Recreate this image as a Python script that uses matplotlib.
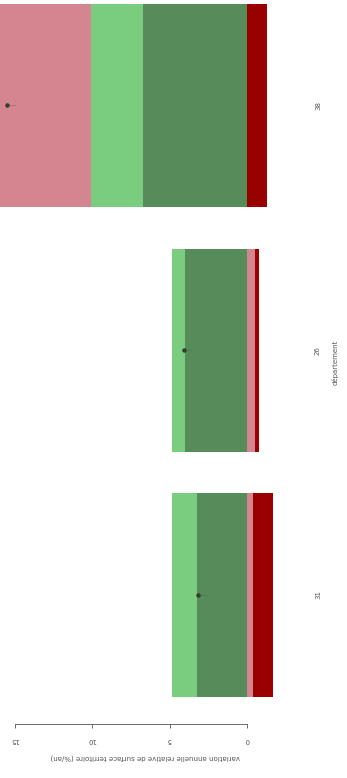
import numpy as np
import matplotlib
matplotlib.use("Agg")
import matplotlib.pyplot as plt

# departements, bottom to top
departements = ['31', '26', '38']

# stacked components (%/an)
vert_fonce = [3.26, 4.0, 6.7]
vert_clair = [1.6, 0.86, 3.4]
rose = [-0.4, -0.5, 6.7]
rouge = [-1.3, -0.3, -1.3]

series = [vert_fonce, vert_clair, rose, rouge]
colors = ['#568c5a', '#7acc7e', '#d4858f', '#990000']

fig = plt.figure(figsize=(3.47, 7.78), dpi=100)
# axes in pixels: left 0, right 290, bottom at y=724 from top
ax = fig.add_axes([0, 54/778, 290/347, 724/778])

pos = np.arange(len(departements))
pos_base = np.zeros(len(departements))
neg_base = np.zeros(len(departements))
for vals, c in zip(series, colors):
    vals = np.array(vals)
    left = np.where(vals >= 0, pos_base, neg_base)
    ax.barh(pos, vals, left=left, height=0.83, color=c, linewidth=0)
    pos_base += np.where(vals >= 0, vals, 0)
    neg_base += np.where(vals < 0, vals, 0)

#net value as a point
net = np.sum(np.array(series), axis=0)
ax.plot(net, pos, 'o', color='#2f3b2f', markersize=2.2, zorder=5)
for x, y in zip(net, pos):
    ax.plot([x, x - 0.5], [y, y], color='#555555', linewidth=0.4, alpha=0.6, zorder=5)

ax.set_xlim(15.95, -2.77)
ax.set_ylim(-0.527, 2.43)

for s in ['top', 'right', 'left']:
    ax.spines[s].set_visible(False)
ax.spines['bottom'].set_bounds(0, 15)
ax.spines['bottom'].set_linewidth(0.6)
ax.spines['bottom'].set_color('#555555')

ax.set_xticks([0, 5, 10, 15])
ax.set_xticklabels(['0', '5', '10', '15'], rotation=180, fontsize=5, color='#555555')
ax.tick_params(axis='x', length=3, width=0.6, color='#555555', pad=6)

ax.yaxis.tick_right()
ax.set_yticks(pos)
ax.set_yticklabels(departements, rotation=90, fontsize=5, color='#555555', va='center')
ax.tick_params(axis='y', length=0, pad=18)

ax.set_xlabel('variation annuelle relative de surface territoire (%/an)', rotation=180,
              fontsize=5, color='#555555', labelpad=8)
ax.yaxis.set_label_position('right')
ax.set_ylabel('département', rotation=90, fontsize=5, color='#555555', labelpad=8)

fig.savefig('out.png', dpi=100)
